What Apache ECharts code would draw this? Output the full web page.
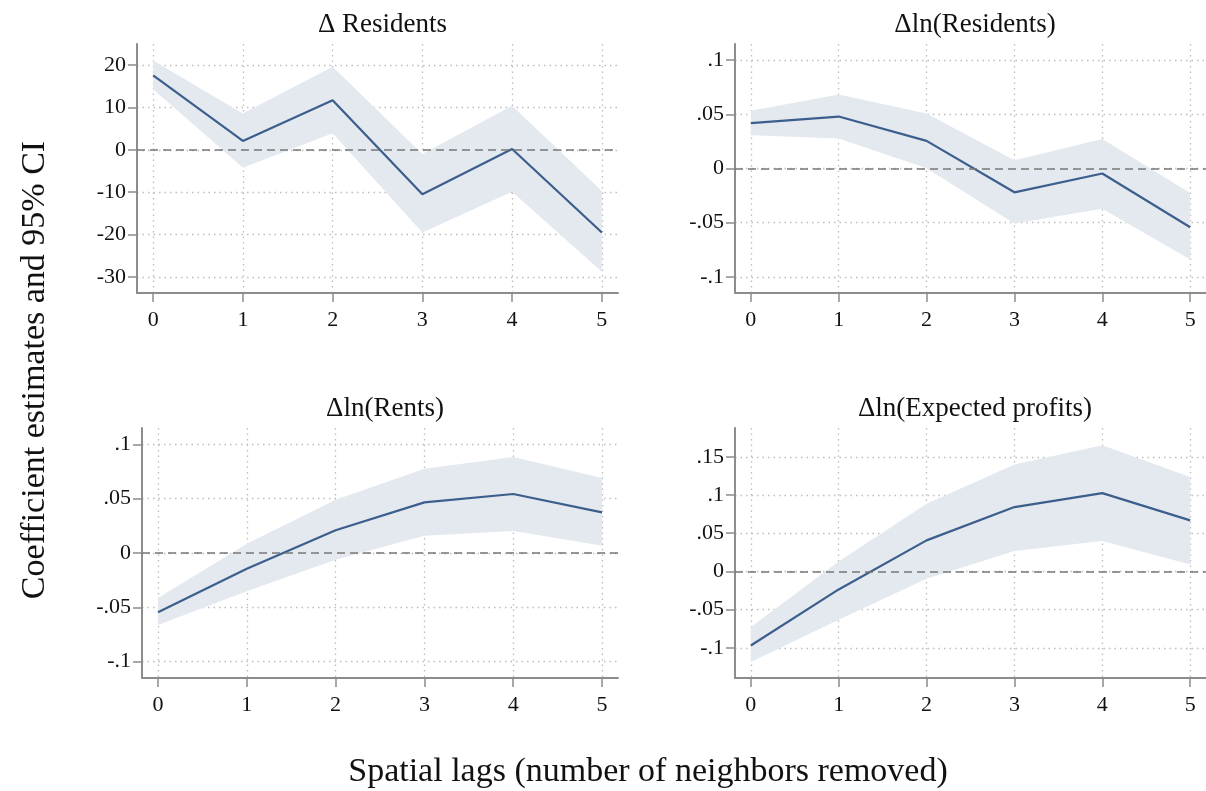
<!DOCTYPE html>
<html>
<head>
<meta charset="utf-8">
<script src="https://cdn.jsdelivr.net/npm/echarts@6/dist/echarts.min.js"></script>
<style>
html,body{margin:0;padding:0;background:#fff;}
#chart{width:1206px;height:791px;}
</style>
</head>
<body>
<div id="chart"></div>
<script>
// ---- Data ----
const lags = [0, 1, 2, 3, 4, 5];

const titles = ['\u0394 Residents', '\u0394ln(Residents)', '\u0394ln(Rents)', '\u0394ln(Expected profits)'];

const resCoef  = [17.6, 2.1, 11.7, -10.5, 0.2, -19.5];
const resUpper = [21.1, 8.6, 19.6, -1.0, 10.4, -9.7];
const resLower = [14.3, -4.2, 3.9, -19.5, -9.9, -28.8];

const lnResCoef  = [0.042, 0.048, 0.0255, -0.022, -0.0046, -0.0543];
const lnResUpper = [0.0534, 0.0684, 0.0509, 0.0077, 0.0273, -0.0227];
const lnResLower = [0.0307, 0.0276, 0.0003, -0.0509, -0.0371, -0.084];

const rentsCoef  = [-0.0546, -0.0144, 0.0209, 0.0466, 0.0543, 0.0374];
const rentsUpper = [-0.0414, 0.0086, 0.049, 0.0776, 0.0883, 0.069];
const rentsLower = [-0.0662, -0.0353, -0.0061, 0.0159, 0.0202, 0.0067];

const profCoef  = [-0.0969, -0.0236, 0.0406, 0.0842, 0.1025, 0.0668];
const profUpper = [-0.0729, 0.0131, 0.0886, 0.14, 0.165, 0.1235];
const profLower = [-0.1187, -0.0633, -0.0096, 0.0266, 0.0397, 0.0092];

const resTicks   = [-30, -20, -10, 0, 10, 20];
const lnResTicks = [-0.1, -0.05, 0, 0.05, 0.1];
const rentsTicks = [-0.1, -0.05, 0, 0.05, 0.1];
const profTicks  = [-0.1, -0.05, 0, 0.05, 0.1, 0.15];

const yTitle = 'Coefficient estimates and 95% CI';
const xTitle = 'Spatial lags (number of neighbors removed)';

// ---- Layout / style ----
const FONT = 'Liberation Serif';
const LINE = '#3b5e8c';
const FILL = '#e4e9f0';
const AXIS = '#8c8c8c';

const panels = [
  {coef: resCoef, up: resUpper, lo: resLower, ticks: resTicks, ymin: -33.8, ymax: 25.0,
   grid: {left: 137, top: 44, width: 481, height: 249}},
  {coef: lnResCoef, up: lnResUpper, lo: lnResLower, ticks: lnResTicks, ymin: -0.115, ymax: 0.115,
   grid: {left: 735, top: 44, width: 474, height: 249}},
  {coef: rentsCoef, up: rentsUpper, lo: rentsLower, ticks: rentsTicks, ymin: -0.115, ymax: 0.115,
   grid: {left: 142, top: 428, width: 476, height: 250}},
  {coef: profCoef, up: profUpper, lo: profLower, ticks: profTicks, ymin: -0.1395, ymax: 0.1877,
   grid: {left: 735, top: 428, width: 474, height: 250}}
];

function fmt(v) {
  if (Math.abs(v) < 1e-9) return '0';
  let s = String(+v.toFixed(4));
  s = s.replace(/^(-?)0\./, '$1.');
  return s;
}

const grids = [], xAxes = [], yAxes = [], series = [], titleArr = [];

panels.forEach((p, i) => {
  grids.push(Object.assign({containLabel: false}, p.grid));
  titleArr.push({
    text: titles[i],
    left: p.grid.left + p.grid.width / 2 - (i % 2 === 1 ? 2 : 0),
    top: p.grid.top - 38,
    textAlign: 'center',
    textStyle: {fontFamily: FONT, fontSize: 27, fontWeight: 'normal', color: '#111'}
  });
  xAxes.push({
    type: 'value', gridIndex: i, min: -0.18, max: 5.18,
    axisLine: {show: true, onZero: false, lineStyle: {color: AXIS, width: 2}},
    axisTick: {show: true, length: 9, customValues: lags, lineStyle: {color: AXIS, width: 1.5}},
    axisLabel: {customValues: lags, margin: 16, fontFamily: FONT, fontSize: 22, color: '#111',
      formatter: v => String(v)},
    splitLine: {show: true, lineStyle: {color: '#bdbdbd', type: [1.5, 4], width: 1.3}}
  });
  yAxes.push({
    type: 'value', gridIndex: i, min: p.ymin, max: p.ymax,
    axisLine: {show: true, onZero: false, lineStyle: {color: AXIS, width: 2}},
    axisTick: {show: true, length: 9, customValues: p.ticks, lineStyle: {color: AXIS, width: 1.5}},
    axisLabel: {customValues: p.ticks, margin: 11, fontFamily: FONT, fontSize: 22, color: '#111',
      formatter: v => fmt(v)},
    splitLine: {show: true, lineStyle: {color: '#bdbdbd', type: [1.5, 4], width: 1.3}}
  });
  // confidence band drawn as one polygon through the axis scales
  series.push({
    type: 'custom', xAxisIndex: i, yAxisIndex: i, silent: true, z: 1,
    data: lags.map((x, k) => [x, p.lo[k], p.up[k]]),
    encode: {x: 0, y: [1, 2]},
    renderItem: function (params, api) {
      if (params.dataIndex !== 0) return null;
      const pts = [];
      for (let k = 0; k < lags.length; k++) pts.push(api.coord([lags[k], p.up[k]]));
      for (let k = lags.length - 1; k >= 0; k--) pts.push(api.coord([lags[k], p.lo[k]]));
      return {
        type: 'polygon',
        shape: {points: pts},
        style: {fill: FILL, stroke: null}
      };
    }
  });
  series.push({
    type: 'line', xAxisIndex: i, yAxisIndex: i,
    data: lags.map((x, k) => [x, p.coef[k]]),
    symbol: 'none', lineStyle: {color: LINE, width: 2.2}, z: 3,
    markLine: {
      silent: true, symbol: 'none', label: {show: false},
      lineStyle: {color: '#777', type: [8, 5], width: 1.5},
      data: [{yAxis: 0}]
    }
  });
});

titleArr.push({
  text: xTitle, left: 643, top: 750, textAlign: 'center',
  textStyle: {fontFamily: FONT, fontSize: 34, fontWeight: 'normal', color: '#111'}
});

const chart = echarts.init(document.getElementById('chart'), null, {renderer: 'canvas'});
chart.setOption({
  backgroundColor: '#fff',
  animation: false,
  title: titleArr,
  grid: grids,
  xAxis: xAxes,
  yAxis: yAxes,
  series: series,
  graphic: [{
    type: 'text', rotation: Math.PI / 2, x: 35, y: 370,
    style: {text: yTitle, font: '34px "Liberation Serif"', fill: '#111',
      textAlign: 'center', textVerticalAlign: 'middle'}
  }]
});
</script>
</body>
</html>
